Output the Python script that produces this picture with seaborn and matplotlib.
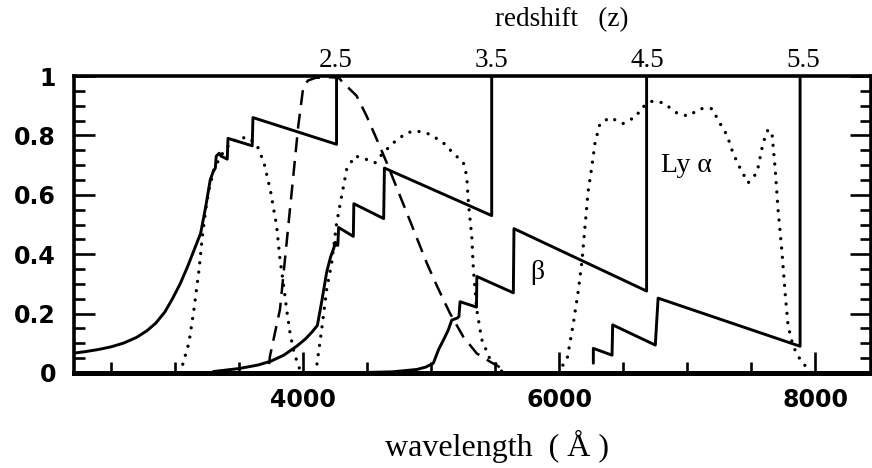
import matplotlib
matplotlib.use("Agg")
import matplotlib.pyplot as plt
from matplotlib.ticker import MultipleLocator, NullLocator
import numpy as np
import pandas as pd
import seaborn as sns

# --- model spectra attenuated by the Lyman forest (solid) ---
wl_z25 = [2211, 2300, 2400, 2500, 2600, 2700, 2780, 2850, 2920, 2980, 3040, 3100,
          3150, 3200, 3240, 3275, 3300, 3315, 3322, 3345, 3360, 3385, 3408, 3414,
          3603, 3609, 4262, 4262]
fl_z25 = [0.067, 0.072, 0.079, 0.088, 0.101, 0.12, 0.142, 0.168, 0.205, 0.25, 0.30, 0.36,
          0.415, 0.47, 0.56, 0.65, 0.68, 0.69, 0.73, 0.74, 0.73, 0.725, 0.72, 0.79,
          0.765, 0.86, 0.77, 1.0]

wl_z35 = [3300, 3500, 3650, 3750, 3850, 3950, 4020, 4070, 4112, 4146, 4185, 4215,
          4240, 4252, 4262, 4272, 4278, 4393, 4397, 4630, 4636, 5474, 5474]
fl_z35 = [0.005, 0.015, 0.027, 0.04, 0.06, 0.09, 0.115, 0.138, 0.16, 0.24, 0.34, 0.39,
          0.42, 0.44, 0.43, 0.43, 0.49, 0.46, 0.57, 0.52, 0.69, 0.53, 1.0]

wl_z45 = [4500, 4700, 4890, 4960, 5018, 5060, 5096, 5135, 5162, 5205, 5218, 5227,
          5355, 5358, 5643, 5648, 6684, 6684]
fl_z45 = [0.002, 0.004, 0.012, 0.02, 0.033, 0.08, 0.11, 0.145, 0.178, 0.185, 0.19, 0.24,
          0.222, 0.325, 0.27, 0.486, 0.276, 1.0]

wl_z55 = [6268, 6268, 6414, 6419, 6752, 6774, 7883, 7883]
fl_z55 = [0.033, 0.083, 0.060, 0.162, 0.094, 0.252, 0.090, 1.0]

# --- filter transmission curves ---
wl_dash = [3735, 3742, 3820, 3872, 3924, 3963, 4003, 4040, 4100, 4200, 4276, 4320,
           4419, 4497, 4576, 4654, 4758, 4862, 4966, 5044, 5148, 5252, 5357, 5461,
           5539, 5560]
tr_dash = [0.03, 0.057, 0.214, 0.439, 0.663, 0.832, 0.966, 0.985, 0.994, 0.996, 0.995, 0.975,
           0.933, 0.865, 0.787, 0.708, 0.596, 0.484, 0.371, 0.295, 0.201, 0.122, 0.066, 0.038,
           0.019, 0.012]

wl_dot1 = [3035, 3057, 3109, 3148, 3188, 3214, 3240, 3266, 3305, 3357, 3435, 3513,
           3578, 3643, 3695, 3745, 3794, 3820, 3846, 3872, 3898, 3924, 3963, 3990]
tr_dot1 = [0.0, 0.024, 0.102, 0.214, 0.349, 0.461, 0.551, 0.618, 0.686, 0.731, 0.776, 0.792,
           0.792, 0.764, 0.708, 0.615, 0.495, 0.383, 0.304, 0.214, 0.136, 0.080, 0.024, 0.0]

wl_dot2 = [4090, 4107, 4146, 4185, 4224, 4263, 4302, 4341, 4406, 4497, 4563, 4628,
           4706, 4810, 4888, 4992, 5096, 5174, 5253, 5279, 5292, 5318, 5331, 5357,
           5396, 5461, 5526, 5560]
tr_dot2 = [0.0, 0.024, 0.147, 0.282, 0.371, 0.506, 0.596, 0.686, 0.731, 0.719, 0.708, 0.742,
           0.775, 0.809, 0.815, 0.804, 0.775, 0.740, 0.708, 0.663, 0.573, 0.461, 0.349, 0.214,
           0.113, 0.046, 0.024, 0.0]

wl_dot3 = [5990, 6008, 6063, 6109, 6148, 6180, 6203, 6227, 6258, 6281, 6320, 6398,
           6500, 6609, 6633, 6727, 6813, 6922, 7008, 7102, 7195, 7258, 7313, 7359,
           7414, 7477, 7547, 7594, 7633, 7664, 7688, 7711, 7742, 7766, 7789, 7828,
           7898, 7945, 7970]
tr_dot3 = [0.0, 0.013, 0.047, 0.16, 0.27, 0.38, 0.495, 0.61, 0.70, 0.775, 0.84, 0.86,
           0.84, 0.865, 0.89, 0.915, 0.91, 0.875, 0.865, 0.89, 0.89, 0.84, 0.80, 0.74,
           0.69, 0.64, 0.675, 0.775, 0.82, 0.805, 0.69, 0.55, 0.405, 0.27, 0.16, 0.09,
           0.034, 0.017, 0.0]

# redshift scale on the upper axis (Ly-alpha observed wavelength)
redshifts = [2.5, 3.5, 4.5, 5.5]
z_labels = ["2.5", "3.5", "4.5", "5.5"]
lya_rest = 1216.0

y_ticks = [0, 0.2, 0.4, 0.6, 0.8, 1.0]
y_labels = ["0", "0.2", "0.4", "0.6", "0.8", "1"]
x_ticks = [4000, 6000, 8000]
x_labels = ["4000", "6000", "8000"]

sns.set_theme(style="ticks")
plt.rcParams["font.family"] = ["DejaVu Sans"]
for key in ["text.color", "axes.labelcolor", "xtick.color", "ytick.color",
            "axes.edgecolor"]:
    plt.rcParams[key] = "black"
SERIF = ["Liberation Serif", "DejaVu Serif"]

fig = plt.figure(figsize=(8.72, 4.68), dpi=100)
ax = fig.add_axes([74 / 872, 95 / 468, 797 / 872, 297 / 468])

solid_kw = dict(color="black", linewidth=2.1, estimator=None, sort=False)
for wl, fl in [(wl_z25, fl_z25), (wl_z35, fl_z35), (wl_z45, fl_z45), (wl_z55, fl_z55)]:
    df = pd.DataFrame({"wavelength": wl, "flux": fl})
    sns.lineplot(data=df, x="wavelength", y="flux", ax=ax, **solid_kw)

df = pd.DataFrame({"wavelength": wl_dash, "flux": tr_dash})
sns.lineplot(data=df, x="wavelength", y="flux", ax=ax, color="black", linewidth=1.8,
             estimator=None, sort=False, linestyle=(0, (6, 3.5)))

for wl, tr in [(wl_dot1, tr_dot1), (wl_dot2, tr_dot2), (wl_dot3, tr_dot3)]:
    df = pd.DataFrame({"wavelength": wl, "flux": tr})
    sns.lineplot(data=df, x="wavelength", y="flux", ax=ax, color="black", linewidth=2.4,
                 estimator=None, sort=False, linestyle=(0, (0.01, 2.8)),
                 dash_capstyle="round")

ax.set_xlim(2211, 8437)
ax.set_ylim(0, 1)
ax.set_xlabel("")
ax.set_ylabel("")

ax.set_xticks(x_ticks)
ax.set_xticklabels(x_labels)
ax.xaxis.set_minor_locator(MultipleLocator(500))
ax.set_yticks(y_ticks)
ax.set_yticklabels(y_labels)
ax.yaxis.set_minor_locator(MultipleLocator(0.05))

ax.tick_params(which="major", direction="in", length=15, width=1.9,
               top=True, right=True, labelsize=17, color="black", labelcolor="black")
ax.tick_params(which="minor", direction="in", length=8, width=1.9,
               top=True, right=True, color="black")
ax.tick_params(axis="x", which="major", pad=11)
ax.tick_params(axis="y", which="major", pad=13)
for lab in ax.get_xticklabels() + ax.get_yticklabels():
    lab.set_fontweight("bold")

for side in ["left", "right", "top"]:
    ax.spines[side].set_linewidth(2.6)
    ax.spines[side].set_color("black")
ax.spines["bottom"].set_linewidth(3.6)
ax.spines["bottom"].set_color("black")

# upper axis with redshift labels
ax2 = ax.twiny()
ax2.set_xlim(ax.get_xlim())
ax2.set_xticks([lya_rest * (1 + z) for z in redshifts])
ax2.set_xticklabels(z_labels, fontfamily=SERIF, fontsize=19.5, color="black")
ax2.xaxis.set_minor_locator(NullLocator())
ax2.tick_params(axis="x", length=0, pad=2)
for s in ax2.spines.values():
    s.set_visible(False)

ax.text(6992, 0.70, "Ly α", fontfamily=SERIF, fontsize=20, ha="center", va="center")
ax.text(5828, 0.34, "β", fontfamily=SERIF, fontsize=20, ha="center", va="center")

ax.text(0.531, -0.249, "wavelength  ( Å )", transform=ax.transAxes,
        fontfamily=SERIF, fontsize=23, ha="center", va="center")
ax.text(0.612, 1.19, "redshift   (z)", transform=ax.transAxes,
        fontfamily=SERIF, fontsize=19.5, ha="center", va="center")

fig.savefig("out.png", dpi=100)
